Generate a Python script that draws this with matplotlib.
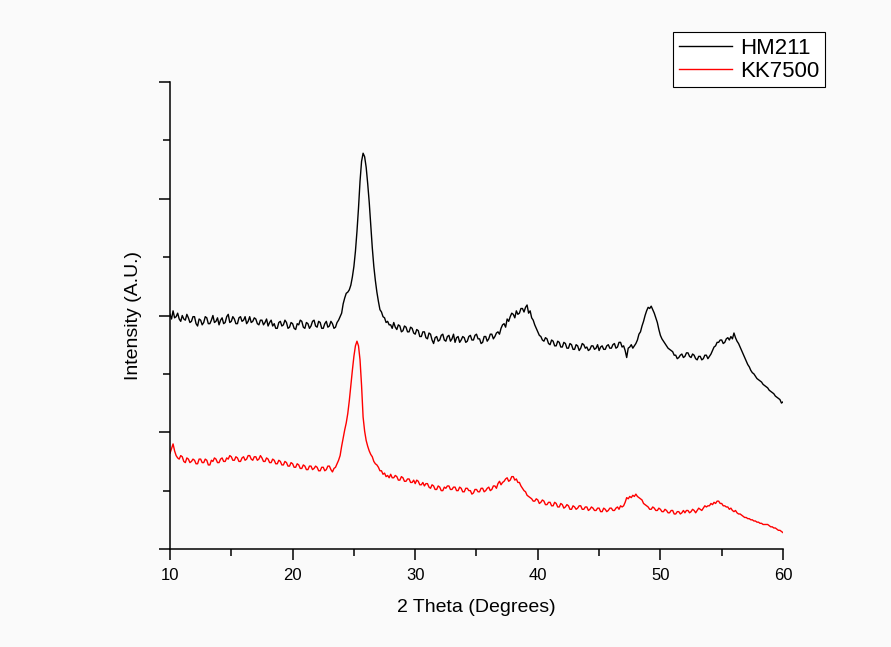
import numpy as np
import matplotlib
matplotlib.use("Agg")
import matplotlib.pyplot as plt
from matplotlib.ticker import MultipleLocator, NullFormatter

plt.rcParams['font.family'] = ['Liberation Sans', 'DejaVu Sans']

# 2 theta grid, 0.125 degree steps from 10 to 60
two_theta = np.linspace(10, 60, 401)

# HM211 trace (arbitrary units), one row = 2 degrees
hm211 = [
    2.01, 1.97, 2.04, 1.98, 1.99, 2.02, 1.97, 1.95, 2.00, 1.97, 1.96, 2.01, 1.98, 1.94, 1.95, 1.99,
    1.99, 1.93, 1.91, 1.97, 1.96, 1.92, 1.94, 1.99, 1.98, 1.93, 1.93, 1.96, 2.00, 1.94, 1.95, 1.98,
    1.92, 1.96, 1.98, 1.93, 1.94, 1.99, 2.01, 1.94, 1.95, 1.99, 1.97, 1.93, 1.93, 1.98, 1.99, 1.95,
    1.96, 1.99, 1.93, 1.95, 1.99, 1.94, 1.95, 1.98, 1.97, 1.93, 1.92, 1.96, 1.96, 1.92, 1.94, 1.97,
    1.91, 1.94, 1.96, 1.91, 1.93, 1.89, 1.89, 1.94, 1.95, 1.91, 1.92, 1.96, 1.94, 1.89, 1.90, 1.94,
    1.93, 1.89, 1.88, 1.93, 1.92, 1.96, 1.95, 1.90, 1.89, 1.94, 1.93, 1.89, 1.91, 1.95, 1.96, 1.91,
    1.90, 1.95, 1.94, 1.89, 1.89, 1.93, 1.95, 1.90, 1.91, 1.95, 1.93, 1.89, 1.90, 1.94, 1.96, 1.99,
    2.02, 2.10, 2.15, 2.19, 2.20, 2.22, 2.26, 2.33, 2.42, 2.55, 2.72, 2.92, 3.15, 3.32, 3.39, 3.36,
    3.27, 3.13, 2.97, 2.78, 2.58, 2.42, 2.30, 2.20, 2.12, 2.05, 2.03, 1.99, 1.98, 1.94, 1.95, 1.92,
    1.92, 1.89, 1.94, 1.90, 1.88, 1.92, 1.91, 1.86, 1.87, 1.91, 1.90, 1.86, 1.86, 1.90, 1.89, 1.85,
    1.84, 1.88, 1.87, 1.82, 1.82, 1.86, 1.86, 1.81, 1.80, 1.85, 1.84, 1.79, 1.76, 1.81, 1.82, 1.78,
    1.79, 1.83, 1.84, 1.79, 1.78, 1.82, 1.83, 1.78, 1.80, 1.84, 1.77, 1.81, 1.82, 1.77, 1.79, 1.82,
    1.81, 1.77, 1.78, 1.82, 1.83, 1.79, 1.79, 1.83, 1.84, 1.80, 1.80, 1.76, 1.77, 1.82, 1.82, 1.78,
    1.80, 1.84, 1.84, 1.80, 1.82, 1.85, 1.86, 1.84, 1.89, 1.92, 1.93, 1.90, 1.97, 1.95, 1.99, 2.02,
    2.01, 1.98, 2.04, 2.01, 2.02, 2.06, 2.06, 2.03, 2.07, 2.09, 2.02, 2.04, 1.98, 1.96, 1.92, 1.89,
    1.86, 1.83, 1.82, 1.79, 1.78, 1.81, 1.80, 1.76, 1.75, 1.79, 1.78, 1.74, 1.74, 1.78, 1.77, 1.73,
    1.73, 1.77, 1.76, 1.72, 1.72, 1.76, 1.75, 1.71, 1.71, 1.75, 1.74, 1.70, 1.72, 1.76, 1.75, 1.72,
    1.73, 1.70, 1.71, 1.74, 1.74, 1.71, 1.72, 1.75, 1.70, 1.73, 1.74, 1.71, 1.71, 1.74, 1.75, 1.72,
    1.72, 1.75, 1.76, 1.72, 1.73, 1.77, 1.77, 1.73, 1.74, 1.70, 1.64, 1.72, 1.73, 1.75, 1.72, 1.74,
    1.76, 1.79, 1.84, 1.86, 1.91, 1.95, 2.00, 2.04, 2.07, 2.06, 2.08, 2.05, 2.02, 1.98, 1.94, 1.88,
    1.83, 1.80, 1.78, 1.76, 1.74, 1.72, 1.71, 1.70, 1.69, 1.66, 1.66, 1.63, 1.64, 1.66, 1.67, 1.64,
    1.65, 1.68, 1.68, 1.65, 1.64, 1.67, 1.66, 1.63, 1.62, 1.65, 1.65, 1.62, 1.63, 1.66, 1.66, 1.63,
    1.65, 1.67, 1.70, 1.73, 1.74, 1.77, 1.77, 1.79, 1.79, 1.76, 1.77, 1.80, 1.81, 1.79, 1.82, 1.80,
    1.85, 1.81, 1.78, 1.76, 1.73, 1.70, 1.67, 1.64, 1.61, 1.58, 1.56, 1.53, 1.51, 1.50, 1.48, 1.46,
    1.45, 1.44, 1.43, 1.41, 1.40, 1.39, 1.38, 1.36, 1.35, 1.34, 1.33, 1.31, 1.30, 1.29, 1.28, 1.25,
    1.26,
]

# KK7500 trace
kk7500 = [
    0.82, 0.86, 0.90, 0.84, 0.80, 0.78, 0.77, 0.80, 0.79, 0.75, 0.74, 0.78, 0.77, 0.74, 0.75, 0.77,
    0.76, 0.73, 0.73, 0.77, 0.77, 0.74, 0.74, 0.77, 0.76, 0.72, 0.72, 0.76, 0.75, 0.78, 0.77, 0.74,
    0.74, 0.77, 0.78, 0.75, 0.75, 0.78, 0.77, 0.80, 0.79, 0.76, 0.76, 0.79, 0.78, 0.75, 0.75, 0.78,
    0.79, 0.76, 0.77, 0.80, 0.80, 0.77, 0.76, 0.79, 0.79, 0.76, 0.77, 0.80, 0.78, 0.75, 0.75, 0.78,
    0.77, 0.74, 0.74, 0.77, 0.76, 0.73, 0.73, 0.76, 0.75, 0.72, 0.72, 0.75, 0.74, 0.71, 0.71, 0.74,
    0.73, 0.70, 0.70, 0.73, 0.72, 0.69, 0.69, 0.72, 0.71, 0.68, 0.68, 0.71, 0.71, 0.68, 0.69, 0.71,
    0.70, 0.67, 0.67, 0.70, 0.70, 0.67, 0.68, 0.71, 0.71, 0.68, 0.66, 0.69, 0.70, 0.73, 0.76, 0.80,
    0.88, 0.95, 1.02, 1.08, 1.16, 1.27, 1.40, 1.53, 1.65, 1.74, 1.78, 1.74, 1.62, 1.40, 1.13, 1.01,
    0.93, 0.88, 0.84, 0.81, 0.79, 0.75, 0.73, 0.72, 0.70, 0.67, 0.67, 0.64, 0.65, 0.62, 0.63, 0.61,
    0.64, 0.61, 0.61, 0.63, 0.62, 0.59, 0.59, 0.62, 0.61, 0.58, 0.58, 0.60, 0.60, 0.57, 0.57, 0.59,
    0.56, 0.59, 0.58, 0.55, 0.55, 0.57, 0.54, 0.56, 0.56, 0.53, 0.52, 0.55, 0.54, 0.51, 0.51, 0.54,
    0.53, 0.50, 0.50, 0.53, 0.52, 0.54, 0.54, 0.51, 0.51, 0.53, 0.53, 0.50, 0.50, 0.53, 0.52, 0.49,
    0.49, 0.52, 0.52, 0.50, 0.50, 0.47, 0.48, 0.51, 0.51, 0.49, 0.49, 0.52, 0.52, 0.49, 0.50, 0.52,
    0.53, 0.50, 0.51, 0.54, 0.54, 0.52, 0.56, 0.58, 0.55, 0.57, 0.58, 0.60, 0.61, 0.58, 0.59, 0.62,
    0.62, 0.59, 0.60, 0.57, 0.57, 0.54, 0.52, 0.50, 0.49, 0.46, 0.45, 0.44, 0.43, 0.41, 0.41, 0.43,
    0.42, 0.39, 0.40, 0.42, 0.41, 0.38, 0.38, 0.40, 0.40, 0.37, 0.37, 0.40, 0.39, 0.36, 0.36, 0.39,
    0.38, 0.35, 0.36, 0.38, 0.37, 0.34, 0.34, 0.37, 0.36, 0.34, 0.35, 0.37, 0.37, 0.34, 0.34, 0.36,
    0.36, 0.33, 0.34, 0.36, 0.35, 0.33, 0.33, 0.35, 0.35, 0.32, 0.32, 0.35, 0.34, 0.32, 0.33, 0.35,
    0.35, 0.33, 0.33, 0.35, 0.36, 0.34, 0.37, 0.36, 0.37, 0.40, 0.44, 0.43, 0.45, 0.44, 0.46, 0.45,
    0.47, 0.45, 0.44, 0.43, 0.42, 0.39, 0.38, 0.37, 0.36, 0.34, 0.34, 0.36, 0.35, 0.33, 0.33, 0.35,
    0.34, 0.32, 0.32, 0.34, 0.33, 0.31, 0.31, 0.33, 0.33, 0.30, 0.30, 0.32, 0.32, 0.30, 0.31, 0.33,
    0.31, 0.33, 0.33, 0.31, 0.32, 0.34, 0.33, 0.31, 0.33, 0.35, 0.34, 0.33, 0.35, 0.37, 0.36, 0.37,
    0.37, 0.39, 0.38, 0.40, 0.39, 0.41, 0.41, 0.39, 0.39, 0.37, 0.37, 0.36, 0.36, 0.34, 0.35, 0.33,
    0.32, 0.33, 0.31, 0.30, 0.30, 0.29, 0.28, 0.27, 0.27, 0.26, 0.26, 0.25, 0.25, 0.24, 0.24, 0.23,
    0.23, 0.22, 0.22, 0.21, 0.21, 0.21, 0.21, 0.20, 0.19, 0.19, 0.18, 0.18, 0.17, 0.16, 0.16, 0.15,
    0.14,
]

assert len(hm211) == len(two_theta) and len(kk7500) == len(two_theta)

fig = plt.figure(figsize=(8.91, 6.47), dpi=100, facecolor='#fafafa')
ax = fig.add_axes([170 / 891, 1 - 549 / 647, 613 / 891, 467 / 647])
ax.set_facecolor('#fafafa')

ax.plot(two_theta, hm211, color='black', linewidth=1.0, label='HM211')
ax.plot(two_theta, kk7500, color='red', linewidth=1.0, label='KK7500')

ax.set_xlim(10, 60)
ax.set_ylim(0, 4)

# Origin-style axes: left and bottom only, ticks outward, no y labels
for side in ['top', 'right']:
    ax.spines[side].set_visible(False)
for side in ['left', 'bottom']:
    ax.spines[side].set_linewidth(1.1)

ax.xaxis.set_major_locator(MultipleLocator(10))
ax.xaxis.set_minor_locator(MultipleLocator(5))
ax.yaxis.set_major_locator(MultipleLocator(1))
ax.yaxis.set_minor_locator(MultipleLocator(0.5))
ax.yaxis.set_major_formatter(NullFormatter())
ax.tick_params(which='major', direction='out', length=8, width=1.1, labelsize=12)
ax.tick_params(which='minor', direction='out', length=5, width=1.1)
ax.tick_params(axis='x', pad=6)

ax.set_xlabel('2 Theta (Degrees)', fontsize=14, labelpad=11)
ax.set_ylabel('Intensity (A.U.)', fontsize=14, labelpad=9)

leg = fig.legend(loc='upper right', bbox_to_anchor=(825 / 891, 1 - 32 / 647),
                 fontsize=16, frameon=True, fancybox=False, borderaxespad=0,
                 handlelength=2.4, labelspacing=0.1, borderpad=0.25,
                 handletextpad=0.36)
leg.get_frame().set_edgecolor('black')
leg.get_frame().set_linewidth(0.8)
leg.get_frame().set_facecolor('white')
leg.get_frame().set_alpha(1)

fig.savefig('out.png', dpi=100, facecolor=fig.get_facecolor())
